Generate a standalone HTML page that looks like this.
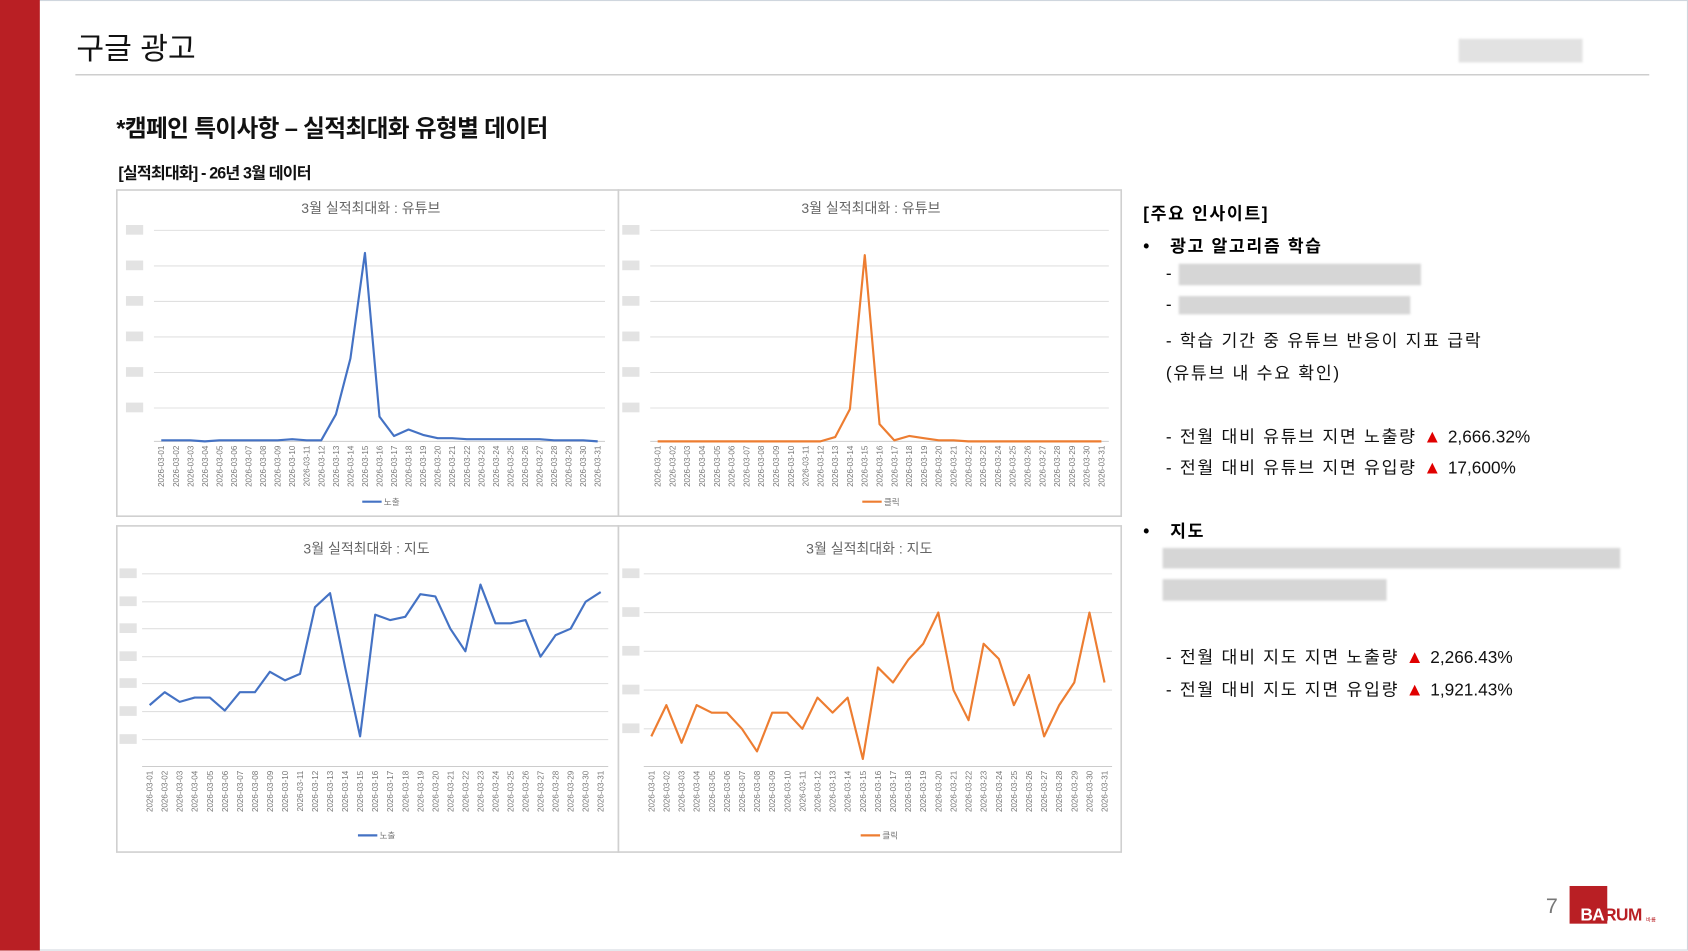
<!DOCTYPE html>
<html><head><meta charset="utf-8">
<style>
html,body{margin:0;padding:0;background:#fff;overflow:hidden;}
#wrap{position:absolute;left:0;top:0;width:1568px;height:883px;transform:scale(1.07653);transform-origin:0 0;background:#fff;font-family:"Liberation Sans","Noto Sans CJK KR",sans-serif;}
.abs{position:absolute;white-space:nowrap;}
.blur{position:absolute;background:#d6d6d6;filter:blur(1px);}
.r{font-size:16px;color:#111;letter-spacing:1.6px;}
.tri{color:#e00000;font-size:17px;letter-spacing:0;}
.n{letter-spacing:0;}
.b{letter-spacing:1.5px;}
</style></head><body>
<div id="wrap">
<div class="abs" style="left:0;top:0;width:1566px;height:881px;border:1px solid #cfd6de;"></div>
<div class="abs" style="left:0;top:0;width:37px;height:883px;background:#b91f24;"></div>
<div class="abs" style="left:71px;top:24px;font-size:28px;color:#111;">구글 광고</div>
<div class="abs" style="left:70px;top:69px;width:1462px;height:1px;background:#bbb;"></div>
<div class="blur" style="left:1355px;top:36px;width:115px;height:22px;background:#e2e2e2;"></div>
<div class="abs" style="left:108px;top:102px;font-size:22px;font-weight:bold;color:#111;letter-spacing:-0.6px;">*캠페인 특이사항 – 실적최대화 유형별 데이터</div>
<div class="abs" style="left:110px;top:150px;font-size:15px;font-weight:bold;color:#111;letter-spacing:-0.8px;">[실적최대화] - 26년 3월 데이터</div>

<svg class="abs" style="left:0;top:0" width="1568" height="883" id="ch" font-family="Liberation Sans, Noto Sans CJK KR, sans-serif"></svg>

<div class="abs b" style="left:1062px;top:185px;font-size:16px;font-weight:bold;">[주요 인사이트]</div>
<div class="abs b" style="left:1062px;top:215px;font-size:16px;font-weight:bold;">•&nbsp;&nbsp; 광고 알고리즘 학습</div>
<div class="abs r" style="left:1083px;top:246px;">-</div><div class="blur" style="left:1095px;top:245px;width:225px;height:20px;"></div>
<div class="abs r" style="left:1083px;top:275px;">-</div><div class="blur" style="left:1095px;top:275px;width:215px;height:17px;"></div>
<div class="abs r" style="left:1083px;top:303px;">- 학습 기간 중 유튜브 반응이 지표 급락</div>
<div class="abs r" style="left:1083px;top:333px;">(유튜브 내 수요 확인)</div>
<div class="abs r" style="left:1083px;top:392px;">- 전월 대비 유튜브 지면 노출량 <span class="tri">▲</span> <span class="n">2,666.32%</span></div>
<div class="abs r" style="left:1083px;top:421px;">- 전월 대비 유튜브 지면 유입량 <span class="tri">▲</span> <span class="n">17,600%</span></div>
<div class="abs b" style="left:1062px;top:480px;font-size:16px;font-weight:bold;">•&nbsp;&nbsp; 지도</div>
<div class="blur" style="left:1080px;top:509px;width:425px;height:19px;"></div>
<div class="blur" style="left:1080px;top:538px;width:208px;height:20px;"></div>
<div class="abs r" style="left:1083px;top:597px;">- 전월 대비 지도 지면 노출량 <span class="tri">▲</span> <span class="n">2,266.43%</span></div>
<div class="abs r" style="left:1083px;top:627px;">- 전월 대비 지도 지면 유입량 <span class="tri">▲</span> <span class="n">1,921.43%</span></div>

<div class="abs" style="left:1436px;top:831px;font-size:20px;color:#777;">7</div>
<div class="abs" style="left:1458px;top:823px;width:35px;height:35px;background:#b91f24;"></div>
<div class="abs" style="left:1468px;top:842px;font-size:16px;font-weight:bold;color:#fff;letter-spacing:-0.5px;">BA<span style="color:#b91f24">RUM</span></div>
<div class="abs" style="left:1529px;top:851px;font-size:5px;color:#b91f24;">바름</div>
</div>
<script>
var s=document.getElementById('ch'),h='';
function box(x,y,w,hh){h+='<rect x="'+x+'" y="'+y+'" width="'+w+'" height="'+hh+'" fill="#fff" stroke="#d0d0d0" stroke-width="1.5"/>';}
box(108.5,176.5,466,303);box(574.5,176.5,467,303);box(108.5,488.5,466,303);box(574.5,488.5,467,303);
function chart(o){
 var cx=(o.x0+o.x1)/2;
 h+='<text x="'+(cx-8)+'" y="'+o.ty+'" font-size="13" fill="#666" text-anchor="middle">'+o.title+'</text>';
 for(var i=0;i<o.grid.length;i++){h+='<line x1="'+o.x0+'" x2="'+o.x1+'" y1="'+o.grid[i]+'" y2="'+o.grid[i]+'" stroke="#e0e0e0" stroke-width="1"/>';
  h+='<rect x="'+o.lx+'" y="'+(o.grid[i]-5)+'" width="16" height="9" fill="#e3e3e3"/>';}
 h+='<line x1="'+o.x0+'" x2="'+o.x1+'" y1="'+o.axis+'" y2="'+o.axis+'" stroke="#ccc"/>';
 var step=(o.x1-o.x0)/31,pts=[];
 for(var d=0;d<31;d++){var x=o.x0+step*(d+0.5);pts.push(x.toFixed(1)+','+o.data[d]);
  var dd=('0'+(d+1)).slice(-2);
  h+='<text transform="translate('+(x+2.8)+','+(o.axis+4)+') rotate(-90)" font-size="7.5" fill="#777" text-anchor="end">2026-03-'+dd+'</text>';}
 h+='<polyline points="'+pts.join(' ')+'" fill="none" stroke="'+o.c+'" stroke-width="2" stroke-linejoin="round"/>';
 h+='<line x1="'+(cx-16)+'" x2="'+(cx+2)+'" y1="'+o.ly+'" y2="'+o.ly+'" stroke="'+o.c+'" stroke-width="2"/>';
 h+='<text x="'+(cx+4)+'" y="'+(o.ly+3)+'" font-size="8" fill="#777">'+o.leg+'</text>';
}
var B='#4472c4',O='#ed7d31';
chart({x0:143,x1:562,ty:198,title:'3월 실적최대화 : 유튜브',grid:[214,247,280,313,346,379],axis:410,lx:117,ly:466,c:B,leg:'노출',
 data:[409,409,409,410,409,409,409,409,409,408,409,409,385,333,235,387,405,399,404,407,407,408,408,408,408,408,408,409,409,409,410]});
chart({x0:604,x1:1030,ty:198,title:'3월 실적최대화 : 유튜브',grid:[214,247,280,313,346,379],axis:410,lx:578,ly:466,c:O,leg:'클릭',
 data:[410,410,410,410,410,410,410,410,410,410,410,410,406,380,237,394,409,405,407,409,409,410,410,410,410,410,410,410,410,410,410]});
chart({x0:132,x1:565,ty:514,title:'3월 실적최대화 : 지도',grid:[533,559,584,610,635,661,687],axis:712,lx:111,ly:776,c:B,leg:'노출',
 data:[655,643,652,648,648,660,643,643,624,632,626,564,551,620,684,571,576,573,552,554,584,605,543,579,579,576,610,590,584,559,550]});
chart({x0:598,x1:1033,ty:514,title:'3월 실적최대화 : 지도',grid:[533,569,605,641,677],axis:712,lx:578,ly:776,c:O,leg:'클릭',
 data:[684,655,690,655,662,662,677,698,662,662,677,648,662,648,705,620,634,613,598,569,641,669,598,612,655,627,684,655,634,569,634]});
s.innerHTML=h;
</script>
</body></html>
